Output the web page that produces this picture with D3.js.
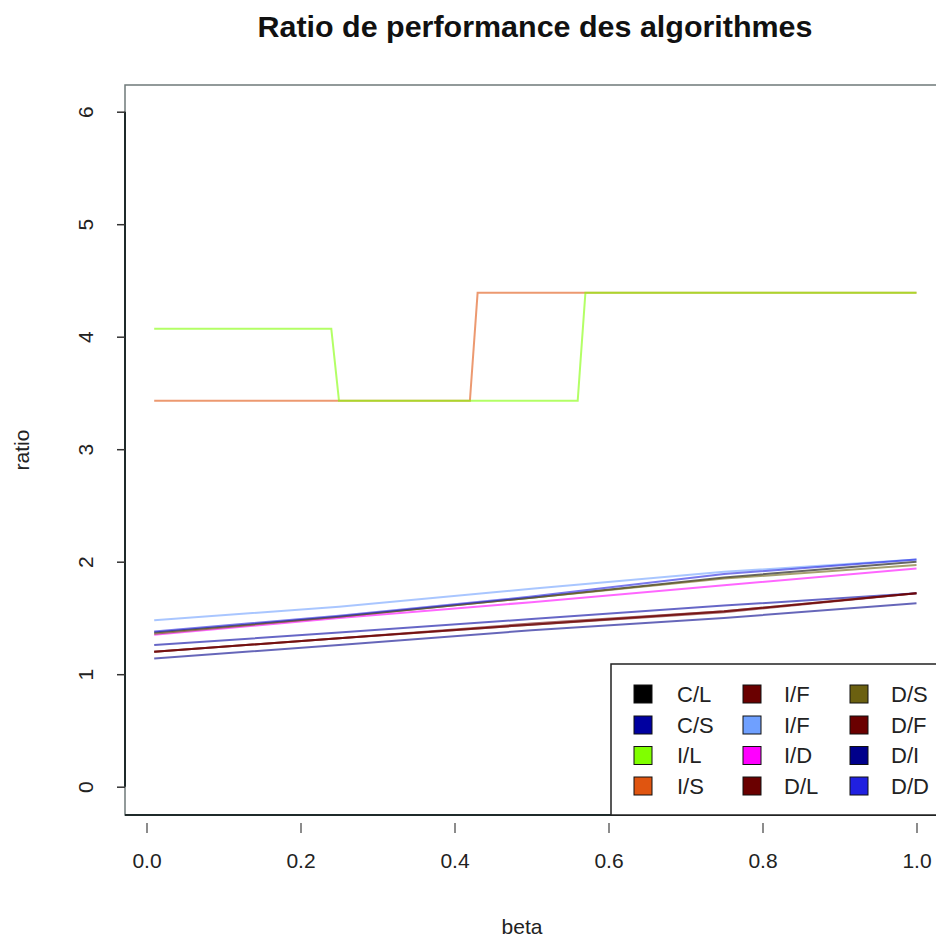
<!DOCTYPE html>
<html>
<head>
<meta charset="utf-8">
<script src="https://cdn.jsdelivr.net/npm/d3@7"></script>
<style>
  body { margin: 0; background: #fff; }
  svg { font-family: "Liberation Sans", Arial, sans-serif; }
</style>
</head>
<body>
<div id="chart"></div>
<script>
// beta values where each series was read
const betaLin = [0.01, 0.25, 0.5, 0.75, 1.0];
const betaIL = [0.01, 0.24, 0.25, 0.56, 0.57, 1.0];
const betaIS = [0.01, 0.42, 0.43, 1.0];

// ratio values per algorithm pair
const ratioCL = [1.37, 1.51, 1.68, 1.86, 2.00];
const ratioCS = [1.26, 1.37, 1.49, 1.61, 1.72];
const ratioIL = [4.07, 4.07, 3.43, 3.43, 4.39, 4.39];
const ratioIS = [3.43, 3.43, 4.39, 4.39];
const ratioIF1 = [1.20, 1.32, 1.44, 1.56, 1.72];
const ratioIF2 = [1.48, 1.60, 1.76, 1.91, 2.02];
const ratioID = [1.35, 1.50, 1.64, 1.79, 1.94];
const ratioDL = [1.20, 1.32, 1.44, 1.55, 1.72];
const ratioDS = [1.36, 1.51, 1.68, 1.85, 1.97];
const ratioDF = [1.20, 1.32, 1.45, 1.56, 1.72];
const ratioDI = [1.14, 1.26, 1.39, 1.50, 1.63];
const ratioDD = [1.38, 1.52, 1.69, 1.89, 2.02];

const labels = ["C/L", "C/S", "I/L", "I/S", "I/F", "I/F", "I/D", "D/L", "D/S", "D/F", "D/I", "D/D"];
const colors = ["#000000", "#0000a0", "#80ff00", "#e05510", "#6a0000", "#6fa0ff",
                "#ff00ff", "#6a0000", "#6b6010", "#6a0000", "#00008b", "#2020e0"];
const xTicks = [0, 0.2, 0.4, 0.6, 0.8, 1.0];
const yTicks = [0, 1, 2, 3, 4, 5, 6];

const series = [
  { x: betaLin, y: ratioCL }, { x: betaLin, y: ratioCS },
  { x: betaIL, y: ratioIL }, { x: betaIS, y: ratioIS },
  { x: betaLin, y: ratioIF1 }, { x: betaLin, y: ratioIF2 },
  { x: betaLin, y: ratioID }, { x: betaLin, y: ratioDL },
  { x: betaLin, y: ratioDS }, { x: betaLin, y: ratioDF },
  { x: betaLin, y: ratioDI }, { x: betaLin, y: ratioDD }
].map((d, i) => ({ label: labels[i], color: colors[i], points: d.x.map((b, j) => [b, d.y[j]]) }));

const width = 936, height = 937;
const box = { left: 125, top: 85, right: 950, bottom: 815 };

const svg = d3.select("#chart").append("svg")
  .attr("width", width)
  .attr("height", height);

const x = d3.scaleLinear().domain([0, 1]).range([146.5, 916.5]);
const y = d3.scaleLinear().domain([0, 6]).range([786.7, 111.7]);

// plot box
svg.append("rect")
  .attr("x", box.left).attr("y", box.top)
  .attr("width", box.right - box.left).attr("height", box.bottom - box.top)
  .attr("fill", "none")
  .attr("stroke", "#6f7a7a")
  .attr("stroke-width", 1.5);

// lines
const line = d3.line().x(d => x(d[0])).y(d => y(d[1]));
const paths = svg.append("g")
  .selectAll("path")
  .data(series)
  .join("path")
  .attr("d", d => line(d.points))
  .attr("fill", "none")
  .attr("stroke", d => d.color)
  .attr("stroke-opacity", 0.6)
  .attr("stroke-width", 2);
// green step line shows on top where it overlaps the orange one
paths.filter(d => d.label == "I/L").raise();

// y axis
const yAxis = d3.axisLeft(y).tickValues(yTicks).tickSize(8).tickPadding(0).tickFormat(d3.format("d"));
const gy = svg.append("g")
  .attr("class", "axis y")
  .attr("transform", `translate(${box.left},0)`)
  .call(yAxis);
gy.select(".domain").attr("d", `M0,${y(6)}V${y(0)}`).attr("stroke", "#1f2a2a").attr("stroke-width", 2);
gy.selectAll(".tick line").attr("stroke", "#333").attr("stroke-width", 1.5);
gy.selectAll(".tick text")
  .attr("x", 0).attr("dy", null)
  .attr("transform", "translate(-40,0) rotate(-90)")
  .attr("text-anchor", "middle")
  .attr("dominant-baseline", "central")
  .attr("font-size", 21)
  .attr("fill", "#222");

// x axis, ticks drawn a little under the box
svg.append("line")
  .attr("x1", box.left).attr("x2", box.right)
  .attr("y1", box.bottom).attr("y2", box.bottom)
  .attr("stroke", "#1f2a2a").attr("stroke-width", 2);
const xAxis = d3.axisBottom(x).tickValues(xTicks).tickSize(10).tickPadding(20).tickFormat(d3.format(".1f"));
const gx = svg.append("g")
  .attr("class", "axis x")
  .attr("transform", `translate(0,${box.bottom + 8})`)
  .call(xAxis);
gx.select(".domain").remove();
gx.selectAll(".tick line").attr("stroke", "#666").attr("stroke-width", 1.5);
gx.selectAll(".tick text").attr("font-size", 21).attr("fill", "#222");

// legend
const legend = svg.append("g").attr("class", "legend");
legend.append("rect")
  .attr("x", 611).attr("y", 664)
  .attr("width", 400).attr("height", box.bottom - 664)
  .attr("fill", "#fff")
  .attr("stroke", "#222")
  .attr("stroke-width", 1.5);
const colX = [643, 752, 859], textX = [677, 784, 891], rowY = [694, 725, 755.5, 786];
const items = legend.selectAll("g.item")
  .data(series)
  .join("g")
  .attr("class", "item")
  .attr("transform", (d, i) => `translate(0,${rowY[i % 4]})`);
items.append("rect")
  .attr("x", (d, i) => colX[Math.floor(i / 4)] - 9)
  .attr("y", -9)
  .attr("width", 18).attr("height", 18)
  .attr("fill", d => d.color)
  .attr("stroke", "#111")
  .attr("stroke-width", 1);
items.append("text")
  .attr("x", (d, i) => textX[Math.floor(i / 4)])
  .attr("dominant-baseline", "central")
  .attr("font-size", 22)
  .attr("fill", "#222")
  .text(d => d.label);

// titles
svg.append("text")
  .attr("x", 535).attr("y", 37)
  .attr("text-anchor", "middle")
  .attr("font-size", 29)
  .attr("font-weight", "bold")
  .attr("textLength", 555)
  .attr("lengthAdjust", "spacingAndGlyphs")
  .attr("fill", "#111")
  .text("Ratio de performance des algorithmes");
svg.append("text")
  .attr("x", 522).attr("y", 934)
  .attr("text-anchor", "middle")
  .attr("font-size", 21)
  .attr("fill", "#222")
  .text("beta");
svg.append("text")
  .attr("transform", `translate(29,450) rotate(-90)`)
  .attr("text-anchor", "middle")
  .attr("font-size", 21)
  .attr("fill", "#222")
  .text("ratio");
</script>
</body>
</html>
